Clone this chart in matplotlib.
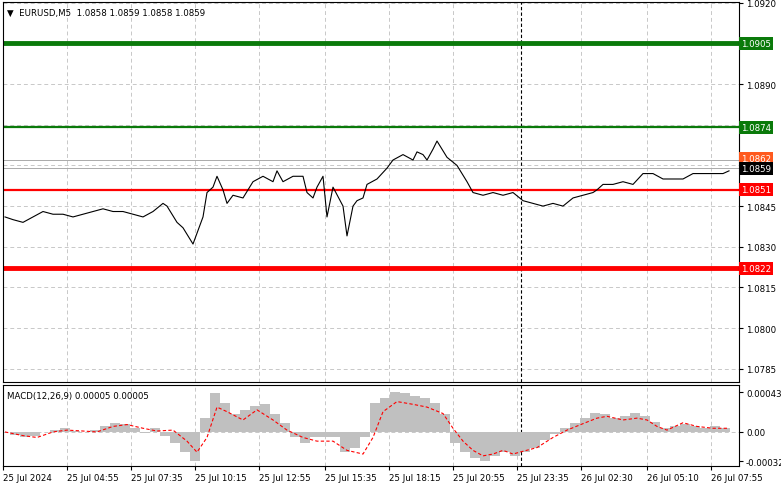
import matplotlib
matplotlib.use('Agg')
import numpy as np
import matplotlib.pyplot as plt

W, H = 781, 489

# price series (bar index, close)
price_bars = [1, 5, 10, 15, 20, 25, 30, 35, 40, 45, 50, 55, 60, 65, 70, 75, 80, 82, 87, 90, 95, 97,
              100, 102, 105, 107, 110, 112, 115, 120, 125, 130, 135, 137, 140, 145, 150, 152, 155, 157,
              160, 162, 165, 170, 172, 175, 177, 180, 182, 187, 192, 195, 200, 205, 207, 210, 212, 215,
              217, 222, 227, 232, 235, 240, 245, 250, 255, 260, 265, 270, 275, 280, 285, 290, 295, 297,
              300, 305, 310, 315, 320, 325, 330, 335, 340, 345, 350, 355, 360, 363]
price = [1.0841, 1.0840, 1.0839, 1.0841, 1.0843, 1.0842, 1.0842, 1.0841, 1.0842, 1.0843, 1.0844, 1.0843,
         1.0843, 1.0842, 1.0841, 1.0843, 1.0846, 1.0845, 1.0839, 1.0837, 1.0831, 1.0835,
         1.0841, 1.0850, 1.0852, 1.0856, 1.0851, 1.0846, 1.0849, 1.0848, 1.0854, 1.0856, 1.0854, 1.0858,
         1.0854, 1.0856, 1.0856, 1.0850, 1.0848, 1.0852, 1.0856, 1.0841, 1.0852, 1.0845, 1.0834, 1.0845,
         1.0847, 1.0848, 1.0853, 1.0855, 1.0859, 1.0862, 1.0864, 1.0862, 1.0865, 1.0864, 1.0862, 1.0866,
         1.0869, 1.0863, 1.0860, 1.0854, 1.0850, 1.0849, 1.0850, 1.0849, 1.0850, 1.0847, 1.0846, 1.0845,
         1.0846, 1.0845, 1.0848, 1.0849, 1.0850, 1.0851, 1.0853, 1.0853, 1.0854, 1.0853, 1.0857, 1.0857,
         1.0855, 1.0855, 1.0855, 1.0857, 1.0857, 1.0857, 1.0857, 1.0858]

# MACD histogram (bar index, value)
hist_bars = list(range(1, 364, 5))
hist = [0.0, -0.03, -0.06, -0.04, 0.0, 0.02, 0.04, 0.01, 0.0, 0.02, 0.06, 0.10, 0.09, 0.04, -0.01, 0.04,
        -0.04, -0.12, -0.22, -0.32, 0.15, 0.42, 0.31, 0.20, 0.24, 0.28, 0.30, 0.20, 0.10, -0.06, -0.12,
        -0.06, -0.06, -0.06, -0.22, -0.17, -0.06, 0.31, 0.37, 0.43, 0.42, 0.39, 0.37, 0.31, 0.20, -0.12,
        -0.22, -0.28, -0.32, -0.26, -0.22, -0.26, -0.22, -0.17, -0.09, -0.02, 0.04, 0.10, 0.15, 0.21,
        0.20, 0.15, 0.17, 0.21, 0.17, 0.11, 0.04, 0.06, 0.09, 0.06, 0.04, 0.06, 0.04]
hist = [v * 1e-3 for v in hist]

# MACD signal line
sig_bars = [1, 10, 17, 25, 32, 40, 47, 55, 62, 70, 77, 85, 92, 97, 102, 107, 112, 120, 127, 135, 142,
            150, 157, 165, 172, 180, 185, 190, 197, 205, 212, 220, 225, 230, 235, 240, 245, 250, 255,
            260, 267, 275, 282, 290, 297, 302, 310, 317, 322, 327, 332, 340, 347, 355, 362]
signal = [0.0, -0.04, -0.06, 0.0, 0.02, 0.01, 0.0, 0.06, 0.08, 0.04, 0.01, 0.02, -0.10, -0.22, -0.06,
          0.27, 0.22, 0.13, 0.24, 0.13, 0.02, -0.06, -0.10, -0.10, -0.20, -0.24, -0.06, 0.22, 0.33,
          0.30, 0.27, 0.20, 0.04, -0.10, -0.20, -0.26, -0.24, -0.20, -0.24, -0.21, -0.17, -0.06, 0.02,
          0.09, 0.15, 0.17, 0.13, 0.15, 0.13, 0.06, 0.02, 0.10, 0.06, 0.04, 0.04]
signal = [v * 1e-3 for v in signal]

levels = [1.0905, 1.0874, 1.0851, 1.0822]
level_colors = ['#0a7a0a', '#0a7a0a', '#ff0000', '#ff0000']
level_widths = [3.5, 1.6, 1.6, 3.5]

price_ticks = [1.0920, 1.0890, 1.0845, 1.0830, 1.0815, 1.0800, 1.0785]
grid_prices = [1.0920, 1.0905, 1.0890, 1.0875, 1.0860, 1.0845, 1.0830, 1.0815, 1.0800, 1.0785]
date_bars = [0, 32, 64, 96, 128, 161, 193, 225, 257, 289, 322, 354]
date_labels = ['25 Jul 2024', '25 Jul 04:55', '25 Jul 07:35', '25 Jul 10:15', '25 Jul 12:55',
               '25 Jul 15:35', '25 Jul 18:15', '25 Jul 20:55', '25 Jul 23:35', '26 Jul 02:30',
               '26 Jul 05:10', '26 Jul 07:55']
cursor_bar = 259

plt.rcParams['font.family'] = 'DejaVu Sans'
fs = 6.2
fig = plt.figure(figsize=(W / 100, H / 100), dpi=100)
ax = fig.add_axes([3 / W, 1 - 383 / H, 736 / W, 380 / H])
mx = fig.add_axes([3 / W, 1 - 467 / H, 736 / W, 81 / H])
xlim = (0, 368)

for a in (ax, mx):
    a.set_xlim(*xlim)
    for b in date_bars:
        a.axvline(b, color='#c8c8c8', lw=0.7, ls=(0, (4, 3)), zorder=0)
    a.axvline(cursor_bar, color='black', lw=0.8, ls=(0, (3, 2)), zorder=1)
    a.yaxis.tick_right()
    a.tick_params(axis='y', labelsize=fs, length=3, pad=2)
    a.tick_params(axis='x', length=0)
    for s in a.spines.values():
        s.set_linewidth(0.8)

ax.set_ylim(1.07801, 1.09203)
for p in grid_prices:
    ax.axhline(p, color='#c8c8c8', lw=0.7, ls=(0, (4, 3)), zorder=0)
ax.set_yticks(price_ticks)
ax.set_yticklabels([f'{p:.4f}' for p in price_ticks])
ax.set_xticks([])
ax.plot(price_bars, price, color='black', lw=0.8, zorder=3)

ax.axhline(1.0862, color='#aaaaaa', lw=0.7, zorder=2)
ax.axhline(price[-1] + 0.0001, color='#aaaaaa', lw=0.7, zorder=2)
for lv, c, w in zip(levels, level_colors, level_widths):
    ax.axhline(lv, color=c, lw=w, zorder=2)
    ax.text(1.003, lv, f'{lv:.4f}', transform=ax.get_yaxis_transform(), fontsize=fs, color='white',
            va='center', ha='left', bbox=dict(boxstyle='square,pad=0.25', fc=c, ec='none'), clip_on=False)
for lv, c in [(1.0862, '#ff5a1e'), (1.0859, 'black')]:
    ax.text(1.003, lv + (0.00005 if c != 'black' else -0.00002), f'{lv:.4f}', transform=ax.get_yaxis_transform(),
            fontsize=fs, color='white', va='center', ha='left',
            bbox=dict(boxstyle='square,pad=0.25', fc=c, ec='none'), clip_on=False)

ax.text(0.005, 0.985, '\u25bc  EURUSD,M5  1.0858 1.0859 1.0858 1.0859', transform=ax.transAxes,
        fontsize=fs, va='top', ha='left')

mx.set_ylim(-0.00037, 0.00051)
mx.axhline(0, color='#c8c8c8', lw=0.7, ls=(0, (4, 3)), zorder=0)
mx.bar(hist_bars, hist, width=5, color='#c0c0c0', zorder=2)
mx.plot(sig_bars, signal, color='red', lw=0.8, ls=(0, (3, 2)), zorder=3)
mx.set_yticks([0.00043, 0.0, -0.00032])
mx.set_yticklabels(['0.00043', '0.00', '-0.00032'])
mx.set_xticks(date_bars)
mx.set_xticklabels(date_labels, fontsize=fs, ha='left')
mx.tick_params(axis='x', length=3, pad=2)
mx.text(0.005, 0.93, 'MACD(12,26,9) 0.00005 0.00005', transform=mx.transAxes, fontsize=fs, va='top')

fig.savefig('out.png', dpi=100)
